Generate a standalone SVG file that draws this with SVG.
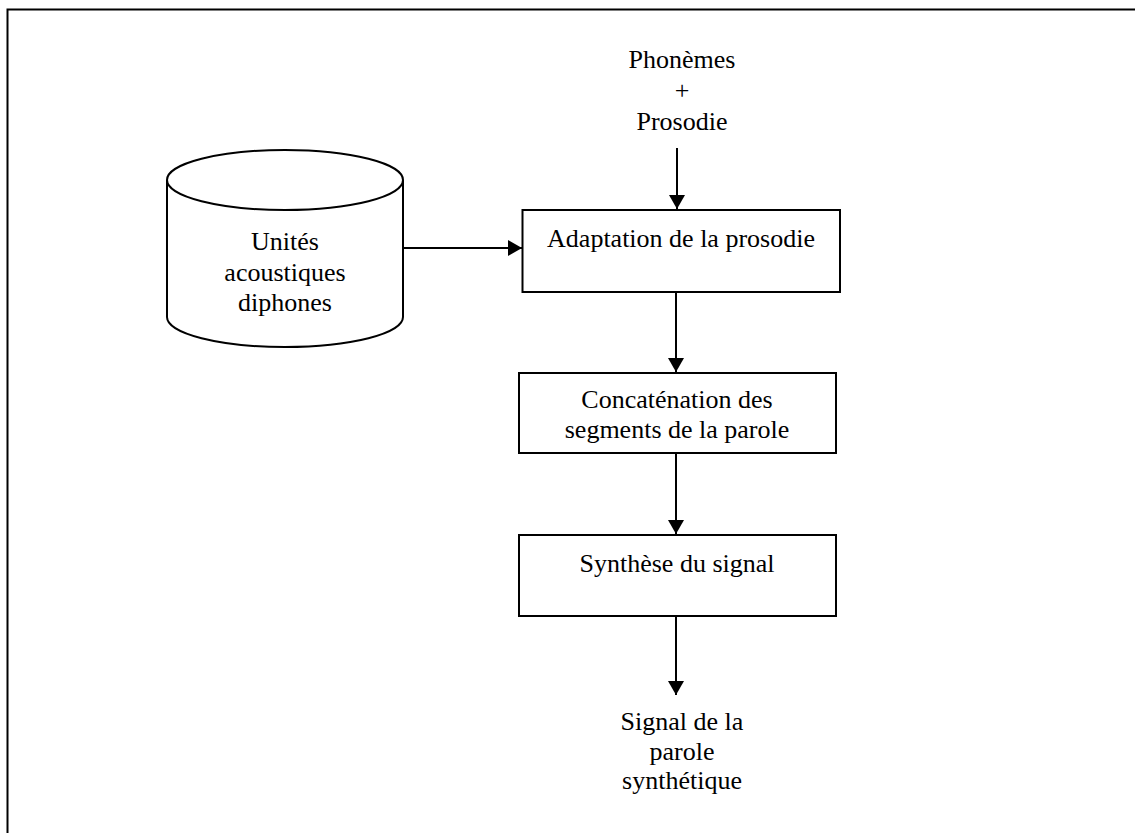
<svg xmlns="http://www.w3.org/2000/svg" width="1135" height="833" viewBox="0 0 1135 833">
<style>
  text { font-family: "Liberation Serif", "Times New Roman", serif; font-size: 26px; fill: #000; text-anchor: middle; }
  .shape { fill: #fff; stroke: #000; stroke-width: 2; }
  .conn line { stroke: #000; stroke-width: 2; }
</style>
<defs>
  <marker id="arr" markerWidth="14" markerHeight="16" refX="14" refY="8" orient="auto" markerUnits="userSpaceOnUse">
    <path d="M0,0 L14,8 L0,16 Z" fill="#000"/>
  </marker>
</defs>
<rect width="1135" height="833" fill="#fff"/>
<g id="frame">
  <path d="M7.5,833 L7.5,9.5 L1135,9.5" fill="none" stroke="#000" stroke-width="2"/>
</g>
<g class="conn" id="connectors">
  <line x1="677" y1="148" x2="677" y2="209" marker-end="url(#arr)"/>
  <line x1="403" y1="248" x2="522" y2="248" marker-end="url(#arr)"/>
  <line x1="676" y1="292" x2="676" y2="372" marker-end="url(#arr)"/>
  <line x1="676" y1="453" x2="676" y2="534" marker-end="url(#arr)"/>
  <line x1="676" y1="616" x2="676" y2="695" marker-end="url(#arr)"/>
</g>
<g id="input">
  <text x="682" y="68">Phonèmes</text>
  <text x="682" y="99">+</text>
  <text x="682" y="130">Prosodie</text>
</g>
<g id="db">
  <path class="shape" d="M167,180 A118,30 0 0 1 403,180 L403,317 A118,30 0 0 1 167,317 Z"/>
  <path d="M167,180 A118,30 0 0 0 403,180" fill="none" stroke="#000" stroke-width="2"/>
  <text x="285" y="250">Unités</text>
  <text x="285" y="281">acoustiques</text>
  <text x="285" y="311">diphones</text>
</g>
<g id="adapt">
  <rect class="shape" x="522.5" y="210" width="317.5" height="82"/>
  <text x="681" y="247">Adaptation de la prosodie</text>
</g>
<g id="concat">
  <rect class="shape" x="519" y="373" width="317" height="80"/>
  <text x="677" y="408">Concaténation des</text>
  <text x="677" y="438">segments de la parole</text>
</g>
<g id="synth">
  <rect class="shape" x="519" y="535" width="317" height="81"/>
  <text x="677" y="572">Synthèse du signal</text>
</g>
<g id="output">
  <text x="682" y="730">Signal de la</text>
  <text x="682" y="760">parole</text>
  <text x="682" y="789">synthétique</text>
</g>
</svg>
